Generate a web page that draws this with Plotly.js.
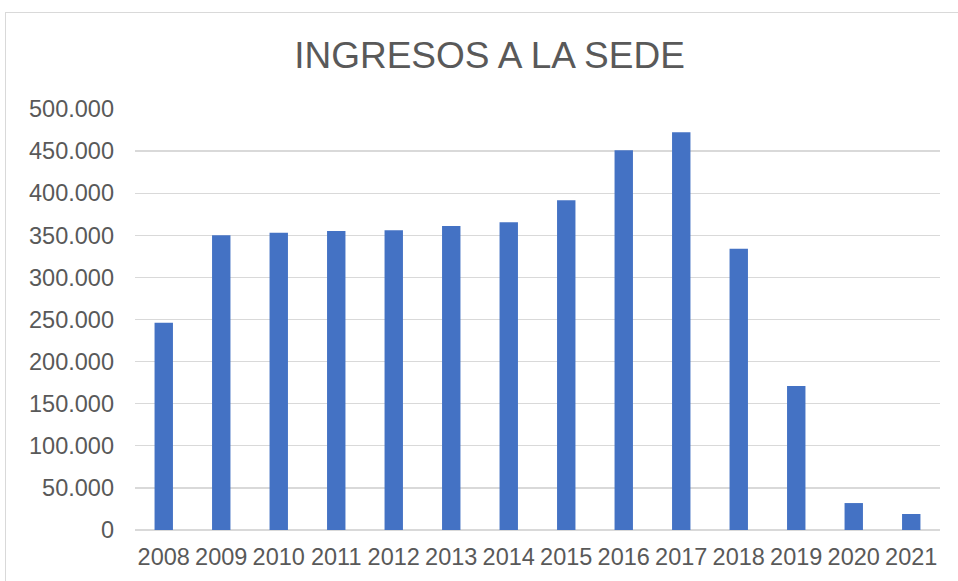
<!DOCTYPE html>
<html>
<head>
<meta charset="utf-8">
<script src="https://cdn.plot.ly/plotly-3.0.1.min.js"></script>
<style>
  html, body { margin: 0; padding: 0; background: #fff; overflow: hidden; }
  #chart { width: 958px; height: 581px; }
  #frame { position: absolute; left: 5px; top: 12px; width: 1000px; height: 700px;
           border: 1px solid #d9d9d9; pointer-events: none; }
</style>
</head>
<body>
<div id="chart"></div>
<div id="frame"></div>
<script>
const years = ["2008","2009","2010","2011","2012","2013","2014","2015","2016","2017","2018","2019","2020","2021"];
const ingresos = [246000, 350000, 353000, 355000, 356000, 361000, 365500, 391500, 451000, 472500, 334000, 171000, 32000, 19000];
const yTicks = [0, 50000, 100000, 150000, 200000, 250000, 300000, 350000, 400000, 450000, 500000];

const font = "'Liberation Sans', Arial, sans-serif";

Plotly.newPlot('chart', [{
  type: 'bar',
  x: years,
  y: ingresos,
  marker: { color: '#4472C4', line: { width: 0 } },
  hoverinfo: 'x+y'
}], {
  width: 958, height: 581,
  margin: { l: 135, r: 18, t: 109, b: 51 },
  paper_bgcolor: '#ffffff',
  plot_bgcolor: '#ffffff',
  separators: ',.',
  bargap: 0.68,
  showlegend: false,
  title: {
    text: 'INGRESOS A LA SEDE',
    font: { family: font, size: 37, color: '#595959' },
    xref: 'container', x: 0.511, xanchor: 'center',
    yref: 'container', y: 1 - 55/581, yanchor: 'middle'
  },
  xaxis: {
    type: 'category',
    tickfont: { family: font, size: 23.5, color: '#595959' },
    showgrid: false,
    showline: true, linecolor: '#d9d9d9', linewidth: 1,
    ticks: '', ticklabelstandoff: 6
  },
  yaxis: {
    range: [0, 500000],
    tickvals: yTicks,
    tickformat: ',d',
    tickfont: { family: font, size: 23.5, color: '#595959' },
    showgrid: true, gridcolor: '#d9d9d9', gridwidth: 1.3,
    zeroline: true, zerolinecolor: '#d9d9d9', zerolinewidth: 1.3,
    showline: false, ticks: '', ticklabelstandoff: 20
  }
}, { displayModeBar: false, staticPlot: true });
</script>
</body>
</html>
